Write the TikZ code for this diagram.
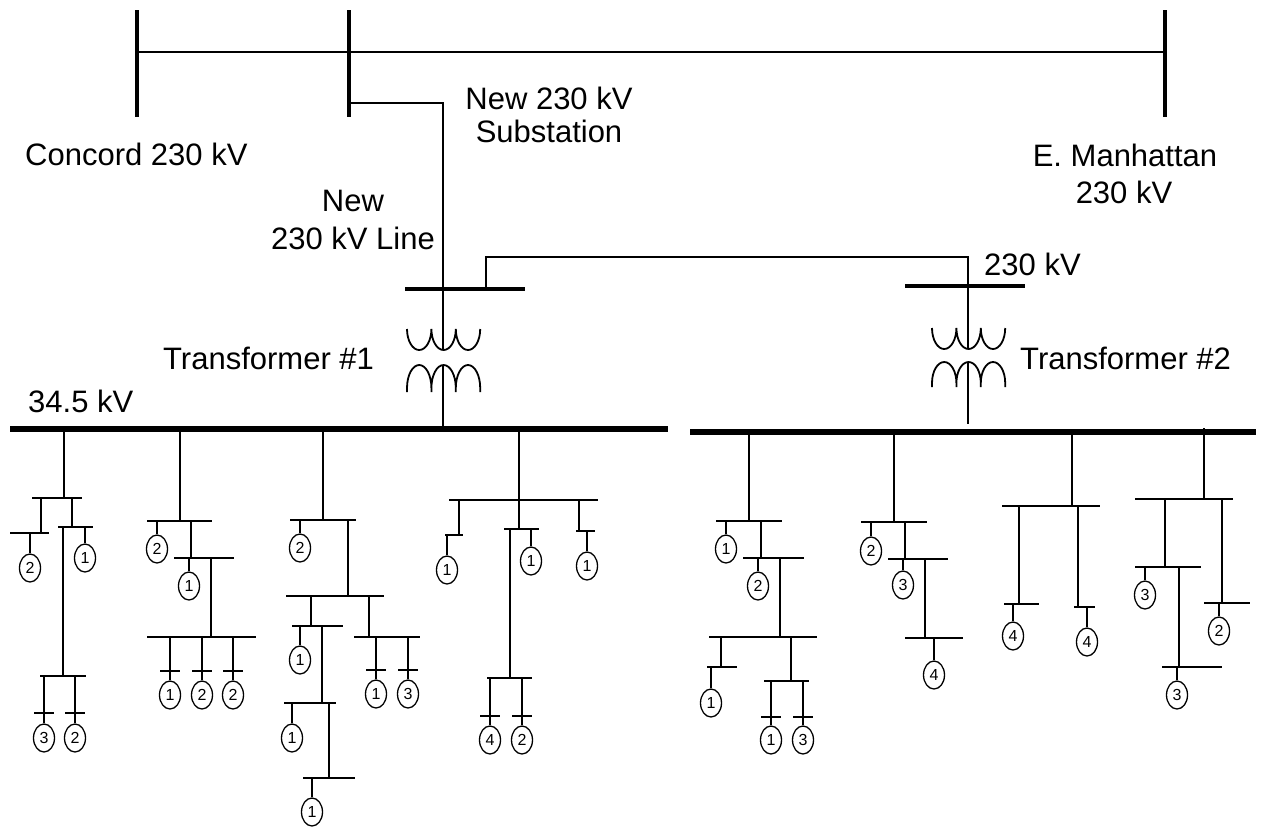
\documentclass[tikz,border=0pt]{standalone}
\usepackage{fontspec}
\setmainfont{Liberation Sans}
\usetikzlibrary{shapes.geometric}
\tikzset{
  wire/.style={line width=1.3pt},
  lvbus/.style={line width=5.3pt},
  hvbus/.style={line width=4.6pt},
  xbus/.style={line width=4.3pt},
  load/.style={draw, ellipse, minimum width=21pt, minimum height=28pt, inner sep=0pt, line width=1.3pt, font=\fontsize{16}{16}\selectfont},
  lbl/.style={font=\fontsize{31}{37}\selectfont, inner sep=0pt},
  coil/.style={line width=1.8pt}
}
% load with plain drop: name, x, ybar, ycenter, label
\newcommand{\ldp}[5]{\node[load] (#1) at (#2,#4) {#5}; \draw[wire] (#2,#3) -- (#1.north);}
% load with tick: name, x, ybar, ytick, ycenter, label
\newcommand{\ldt}[6]{\node[load] (#1) at (#2,#5) {#6}; \draw[wire] (#2,#3) -- (#1.north); \draw[wire] (#2-10,#4) -- (#2+10,#4);}
% transformer coils: x0 (left), ytop of U, ytop of n, ybottom of n
\newcommand{\xfmr}[4]{%
  \pgfmathsetlengthmacro{\nry}{(#4-#3-4)*1pt}%
  \draw[coil] (#1,#2) arc[start angle=180,end angle=360,x radius=12.2pt,y radius=21pt]
     arc[start angle=180,end angle=360,x radius=12.2pt,y radius=21pt]
     arc[start angle=180,end angle=360,x radius=12.2pt,y radius=21pt];
  \draw[coil] (#1,#4) -- ++(0,-4) arc[start angle=180,end angle=0,x radius=12.2pt,y radius=\nry] -- ++(0,4)
     (#1+24.4,#4-4) arc[start angle=180,end angle=0,x radius=12.2pt,y radius=\nry] -- ++(0,4)
     (#1+48.8,#4-4) arc[start angle=180,end angle=0,x radius=12.2pt,y radius=\nry] -- ++(0,4);}
\begin{document}
\begin{tikzpicture}[x=1pt,y=-1pt]
\useasboundingbox (0,0) rectangle (1263,831);
% ---- 230 kV system ----
\draw[hvbus] (137,10) -- (137,117);
\draw[hvbus] (349,10) -- (349,117);
\draw[hvbus] (1165,10) -- (1165,117);
\draw[wire] (137,52) -- (1165,52);
\coordinate (subtap) at (349,103);
\coordinate (t1top) at (443,289);
\draw[wire] (subtap) -- (443,103) -- (t1top);
\draw[xbus] (405,289) -- (525,289);
\draw[xbus] (905,286) -- (1025,286);
\draw[wire] (486,289) -- (486,257) -- (968,257) -- (968,286);
% transformer 1
\draw[wire] (443,289) -- (443,350);
\xfmr{407}{329}{365}{392}
\draw[wire] (443,366) -- (443,429);
% transformer 2
\draw[wire] (968,286) -- (968,349);
\xfmr{932}{328}{362}{387}
\draw[wire] (968,363) -- (968,424);
% labels
\node[lbl, anchor=base west] (lc) at (25,165) {Concord 230 kV};
\node[lbl, anchor=base] (ln1) at (549,109) {New 230 kV};
\node[lbl, anchor=base] (ln2) at (549,142) {Substation};
\node[lbl, anchor=base] (le1) at (1125,166) {E. Manhattan};
\node[lbl, anchor=base] (le2) at (1124,203) {230 kV};
\node[lbl, anchor=base] (ll1) at (353,211) {New};
\node[lbl, anchor=base] (ll2) at (353,249) {230 kV Line};
\node[lbl, anchor=base west] (lt2kv) at (984,275) {230 kV};
\node[lbl, anchor=base west] (lt1) at (163,369) {Transformer \#1};
\node[lbl, anchor=base west] (lt2) at (1020,369) {Transformer \#2};
\node[lbl, anchor=base west] (l345) at (28,412) {34.5 kV};
% ---- 34.5 kV buses ----
\draw[lvbus] (10,429) -- (668,429);
\draw[lvbus] (690,432) -- (1256,432);
% Feeder A
\draw[wire] (64,429) -- (64,498);
\draw[wire] (32,498) -- (82,498);
\draw[wire] (41,498) -- (41,533);
\draw[wire] (10,533) -- (49,533);
\ldp{a1}{30}{533}{568}{2}
\draw[wire] (72,498) -- (72,527);
\draw[wire] (58,527) -- (93,527);
\ldp{a2}{85}{527}{558}{1}
\draw[wire] (63,527) -- (63,676);
\draw[wire] (40,676) -- (86,676);
\ldt{a3}{44}{676}{713}{738}{3}
\ldt{a4}{75}{676}{713}{738}{2}
% Feeder B
\draw[wire] (180,429) -- (180,521);
\draw[wire] (147,521) -- (212,521);
\ldp{b1}{157}{521}{549}{2}
\draw[wire] (191,521) -- (191,558);
\draw[wire] (174,558) -- (234,558);
\ldp{b2}{189}{558}{586}{1}
\draw[wire] (211,558) -- (211,637);
\draw[wire] (147,637) -- (256,637);
\ldt{b3}{170}{637}{671}{695}{1}
\ldt{b4}{202}{637}{671}{695}{2}
\ldt{b5}{233}{637}{671}{695}{2}
% Feeder C
\draw[wire] (323,429) -- (323,520);
\draw[wire] (290,520) -- (356,520);
\ldp{c1}{300}{520}{548}{2}
\draw[wire] (348,520) -- (348,596);
\draw[wire] (286,596) -- (384,596);
\draw[wire] (311,596) -- (311,626);
\draw[wire] (292,626) -- (343,626);
\ldp{c2}{300}{626}{660}{1}
\draw[wire] (322,626) -- (322,703);
\draw[wire] (284,703) -- (336,703);
\ldp{c3}{292}{703}{738}{1}
\draw[wire] (329,703) -- (329,778);
\draw[wire] (303,778) -- (355,778);
\ldp{c4}{312}{778}{812}{1}
\draw[wire] (369,596) -- (369,637);
\draw[wire] (354,637) -- (420,637);
\ldt{c5}{376}{637}{670}{694}{1}
\ldt{c6}{408}{637}{670}{694}{3}
% Feeder D
\draw[wire] (519,429) -- (519,500);
\draw[wire] (449,500) -- (598,500);
\draw[wire] (459,500) -- (459,535);
\draw[wire] (445,535) -- (463,535);
\ldp{d1}{447}{535}{570}{1}
\draw[wire] (519,500) -- (519,529);
\draw[wire] (504,529) -- (539,529);
\ldp{d2}{531}{529}{561}{1}
\draw[wire] (510,529) -- (510,678);
\draw[wire] (487,678) -- (532,678);
\ldt{d3}{490}{678}{716}{740}{4}
\ldt{d4}{522}{678}{716}{740}{2}
\draw[wire] (579,500) -- (579,531);
\draw[wire] (576,531) -- (595,531);
\ldp{d5}{587}{531}{566}{1}
% Feeder E
\draw[wire] (749,432) -- (749,521);
\draw[wire] (716,521) -- (782,521);
\ldp{e1}{726}{521}{549}{1}
\draw[wire] (761,521) -- (761,558);
\draw[wire] (743,558) -- (804,558);
\ldp{e2}{758}{558}{586}{2}
\draw[wire] (780,558) -- (780,637);
\draw[wire] (709,637) -- (817,637);
\draw[wire] (721,637) -- (721,667);
\draw[wire] (707,667) -- (737,667);
\ldp{e3}{711}{667}{703}{1}
\draw[wire] (791,637) -- (791,681);
\draw[wire] (764,681) -- (809,681);
\ldt{e4}{771}{681}{717}{740}{1}
\ldt{e5}{803}{681}{717}{740}{3}
% Feeder F
\draw[wire] (894,432) -- (894,522);
\draw[wire] (861,522) -- (927,522);
\ldp{f1}{871}{522}{551}{2}
\draw[wire] (905,522) -- (905,559);
\draw[wire] (888,559) -- (948,559);
\ldp{f2}{903}{559}{585}{3}
\draw[wire] (925,559) -- (925,638);
\draw[wire] (905,638) -- (963,638);
\ldp{f3}{934}{638}{675}{4}
% Feeder G
\draw[wire] (1072,432) -- (1072,506);
\draw[wire] (1002,506) -- (1100,506);
\draw[wire] (1019,506) -- (1019,604);
\draw[wire] (1004,604) -- (1039,604);
\ldp{g1}{1013}{604}{636}{4}
\draw[wire] (1078,506) -- (1078,607);
\draw[wire] (1074,607) -- (1095,607);
\ldp{g2}{1087}{607}{642}{4}
% Feeder H
\draw[wire] (1204,428) -- (1204,499);
\draw[wire] (1135,499) -- (1233,499);
\draw[wire] (1165,499) -- (1165,567);
\draw[wire] (1135,567) -- (1201,567);
\ldp{h1}{1145}{567}{595}{3}
\draw[wire] (1179,567) -- (1179,667);
\draw[wire] (1162,667) -- (1222,667);
\ldp{h2}{1177}{667}{695}{3}
\draw[wire] (1222,499) -- (1222,603);
\draw[wire] (1204,603) -- (1250,603);
\ldp{h3}{1219}{603}{631}{2}
\end{tikzpicture}
\end{document}
